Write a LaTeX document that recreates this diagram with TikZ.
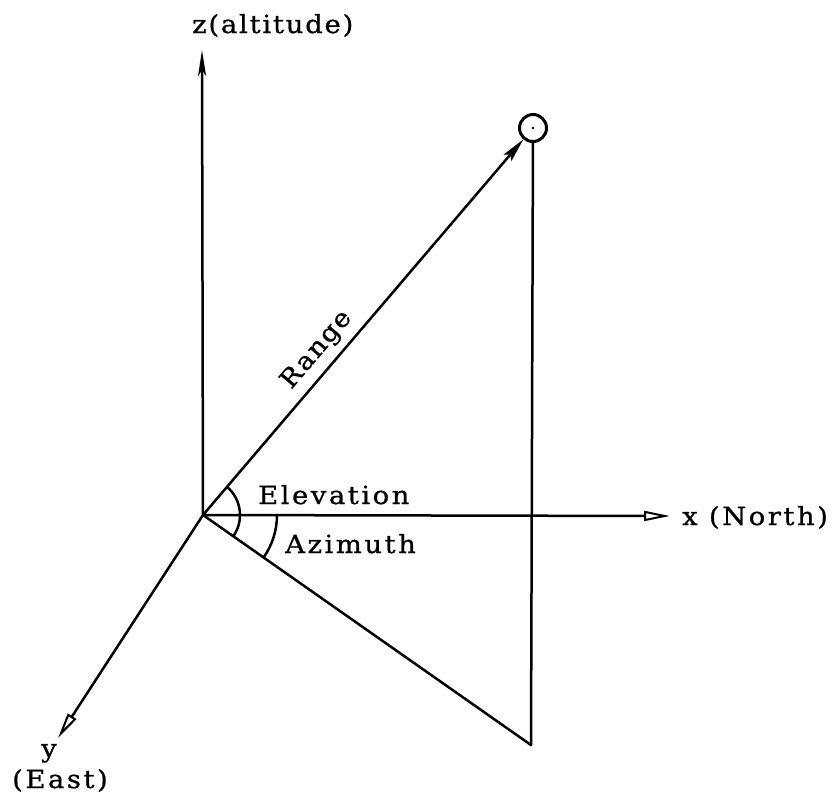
\documentclass[tikz,border=0pt]{standalone}
\usepackage{fontspec}
\usetikzlibrary{arrows.meta}
\newfontfamily\tw[FakeStretch=1.1,LetterSpace=10,FakeBold=0.8]{DejaVu Serif}
\newfontfamily\twz[FakeStretch=1.1,LetterSpace=7,FakeBold=0.8]{DejaVu Serif}
\newfontfamily\twr[FakeStretch=1.1,LetterSpace=5,FakeBold=0.8]{DejaVu Serif}
\begin{document}
\begin{tikzpicture}[x=1pt,y=-1pt,
  ln/.style={line width=2.5pt, line cap=round},
  lbl/.style={inner sep=0pt, font=\tw\fontsize{25}{27}\selectfont},
  hollow/.style={-{Triangle[open,length=26pt,width=10pt,line width=2pt]}},
  solid/.style={-{Stealth[length=24pt,width=10pt,inset=4pt]}}]
\path[use as bounding box] (0,0) rectangle (832,804);
% points
\coordinate (O) at (203,515);
\coordinate (Z) at (202,50);
\coordinate (X) at (670,516);
\coordinate (Y) at (58,738);
\coordinate (F) at (531,745);
\node[circle, draw, line width=3pt, minimum size=27pt, inner sep=0pt] (T) at (533,128) {};
\fill (T.center) circle (1.3pt);
% axes
\draw[ln, -{Stealth[length=26pt,width=8pt,inset=6pt]}] (O) -- (Z);
\draw[ln, hollow] (O) -- (X);
\draw[ln, hollow] (O) -- (Y);
% range
\draw[ln, solid] (O) -- (T);
% projection
\draw[ln] (T) -- (F);
\draw[ln] (O) -- (F);
% angles
\draw[ln] (O) ++(-49.5:37) arc[start angle=-49.5, end angle=35, radius=37];
\draw[ln] (O) ++(0:74) arc[start angle=0, end angle=35, radius=74];
% labels
\node[lbl, anchor=base west] (lz) at (192,33) {\twz\fontsize{25}{27}\selectfont z(altitude)};
\node[lbl, anchor=base west] (le) at (258,504) {Elevation};
\node[lbl, anchor=base west] (la) at (285,553) {Azimuth};
\node[lbl, anchor=base west] (lx) at (682,525) {x (North)};
\node[lbl, anchor=base] (ly) at (49,757) {y};
\node[lbl, anchor=base] (lea) at (60,788) {(East)};
\node[lbl, rotate=49.5] (lr) at (317,350) {\twr\fontsize{25}{27}\selectfont Range};
\end{tikzpicture}
\end{document}
